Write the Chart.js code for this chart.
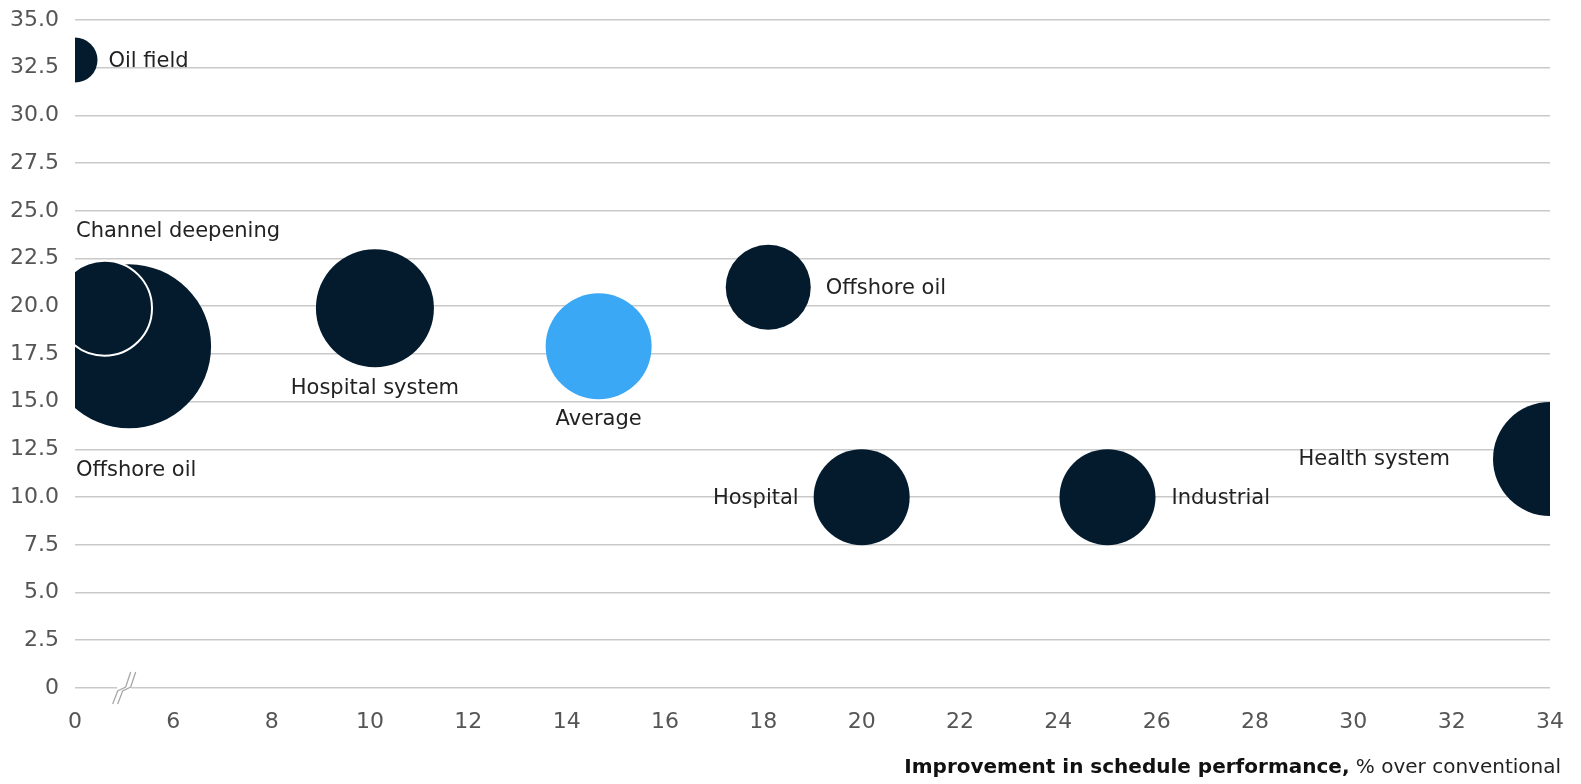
<!DOCTYPE html>
<html>
<head>
<meta charset="utf-8">
<script src="https://cdn.jsdelivr.net/npm/chart.js@4.4.1/dist/chart.umd.min.js"></script>
<style>
  html, body { margin: 0; padding: 0; background: #fff; }
  #wrap { width: 1581px; height: 784px; }
</style>
</head>
<body>
<div id="wrap"><canvas id="bubbleChart" width="1581" height="784"></canvas></div>
<script>
// projects; x is the axis position (the axis is broken: position 4 is labelled "0")
var projectNames = ["Oil field", "Offshore oil", "Channel deepening", "Hospital system", "Average",
                    "Offshore oil", "Hospital", "Industrial", "Health system"];
var schedule = [4.0, 5.1, 4.6, 10.1, 14.65, 18.1, 20.0, 25.0, 34.0];
var cost = [32.9, 17.9, 19.9, 19.9, 17.9, 21, 10, 10, 12];
var bubbleSize = [22.5, 82, 47.5, 59, 53, 42.5, 48, 48, 57];

var xTicks = [4, 6, 8, 10, 12, 14, 16, 18, 20, 22, 24, 26, 28, 30, 32, 34];
var xTickLabels = ["0", "6", "8", "10", "12", "14", "16", "18", "20", "22", "24", "26", "28", "30", "32", "34"];
var yTickLabels = ["0", "2.5", "5.0", "7.5", "10.0", "12.5", "15.0", "17.5", "20.0", "22.5", "25.0", "27.5", "30.0", "32.5", "35.0"];

var NAVY = "#041b2e";
var BLUE = "#3aa8f4";
var FONT = "'DejaVu Sans', sans-serif";

// where each label sits relative to its bubble
var labelPlace = [
  {side: "right", gap: 11},
  {side: "belowLeft", gap: 42},
  {side: "aboveLeft", gap: 29},
  {side: "below", gap: 21},
  {side: "below", gap: 20},
  {side: "right", gap: 15},
  {side: "left", gap: 15},
  {side: "right", gap: 16},
  {side: "left", gap: 43}
];

var points = schedule.map(function(x, i) {
  return {x: x, y: cost[i], r: bubbleSize[i]};
});

var labelPlugin = {
  id: "bubbleLabels",
  afterDatasetsDraw: function(chart) {
    var ctx = chart.ctx;
    var meta = chart.getDatasetMeta(0);
    var area = chart.chartArea;
    ctx.save();
    ctx.font = "21px " + FONT;
    ctx.fillStyle = "#222";
    meta.data.forEach(function(el, i) {
      var p = labelPlace[i];
      var r = bubbleSize[i];
      var tx = el.x, ty = el.y + 1;
      ctx.textBaseline = "middle";
      if (p.side === "right") { ctx.textAlign = "left"; tx = el.x + r + p.gap; }
      else if (p.side === "left") { ctx.textAlign = "right"; tx = el.x - r - p.gap; }
      else if (p.side === "below") { ctx.textAlign = "center"; ty = el.y + r + p.gap; }
      else if (p.side === "belowLeft") { ctx.textAlign = "left"; tx = area.left + 1; ty = el.y + r + p.gap; }
      else if (p.side === "aboveLeft") { ctx.textAlign = "left"; tx = area.left + 1; ty = el.y - r - p.gap; }
      ctx.fillText(projectNames[i], tx, ty);
    });
    ctx.restore();
  },
  afterDraw: function(chart) {
    var ctx = chart.ctx;
    var xs = chart.scales.x, ys = chart.scales.y;
    // axis break mark
    var cx = xs.getPixelForValue(5), cy = ys.getPixelForValue(0);
    ctx.save();
    ctx.fillStyle = "#fff";
    ctx.fillRect(cx - 7, cy - 3, 14, 6);
    ctx.strokeStyle = "#a8a8a8";
    ctx.lineWidth = 1.3;
    [-2.5, 2.5].forEach(function(off) {
      ctx.beginPath();
      ctx.moveTo(cx + off - 9, cy + 16);
      ctx.lineTo(cx + off - 4, cy + 3);
      ctx.lineTo(cx + off + 4, cy - 1);
      ctx.lineTo(cx + off + 9, cy - 16);
      ctx.stroke();
    });
    // axis title, bold lead + regular tail, right aligned
    var bold = "Improvement in schedule performance,";
    var rest = " % over conventional";
    ctx.textBaseline = "middle";
    ctx.textAlign = "left";
    ctx.font = "20px " + FONT;
    var wRest = ctx.measureText(rest).width;
    ctx.font = "bold 20px " + FONT;
    var wBold = ctx.measureText(bold).width;
    var right = 1561, y = 768;
    ctx.fillStyle = "#111";
    ctx.fillText(bold, right - wRest - wBold, y);
    ctx.font = "20px " + FONT;
    ctx.fillStyle = "#222";
    ctx.fillText(rest, right - wRest, y);
    ctx.restore();
  }
};

new Chart(document.getElementById("bubbleChart"), {
  type: "bubble",
  data: {
    datasets: [{
      label: "Projects",
      data: points,
      clip: 0,
      backgroundColor: projectNames.map(function(n, i) { return i === 4 ? BLUE : NAVY; }),
      borderColor: projectNames.map(function(n, i) { return i === 2 ? "#ffffff" : "rgba(0,0,0,0)"; }),
      borderWidth: projectNames.map(function(n, i) { return i === 2 ? 2 : 0; }),
      hoverRadius: 0
    }]
  },
  options: {
    responsive: false,
    animation: false,
    events: [],
    layout: {autoPadding: false, padding: {top: 20, right: 31, left: 0, bottom: 0}},
    plugins: {
      legend: {display: false},
      tooltip: {enabled: false}
    },
    scales: {
      x: {
        type: "linear",
        min: 4,
        max: 34,
        afterFit: function(s) { s.height = 96; s.paddingLeft = 0; s.paddingRight = 0; },
        afterBuildTicks: function(s) { s.ticks = xTicks.map(function(v) { return {value: v}; }); },
        grid: {display: false, drawTicks: false},
        border: {display: false},
        ticks: {
          padding: 21,
          color: "#555",
          font: {family: FONT, size: 22},
          maxRotation: 0,
          autoSkip: false,
          callback: function(v) { return xTickLabels[xTicks.indexOf(v)]; }
        }
      },
      y: {
        min: 0,
        max: 35,
        afterFit: function(s) { s.width = 75; s.paddingTop = 0; s.paddingBottom = 0; },
        afterBuildTicks: function(s) { s.ticks = yTickLabels.map(function(t, i) { return {value: i * 2.5}; }); },
        grid: {color: "#c9c9c9", lineWidth: 1.6, drawTicks: false},
        border: {display: false},
        ticks: {
          padding: 16,
          color: "#555",
          font: {family: FONT, size: 22},
          autoSkip: false,
          callback: function(v) { return yTickLabels[Math.round(v / 2.5)]; }
        }
      }
    }
  },
  plugins: [labelPlugin]
});
</script>
</body>
</html>
